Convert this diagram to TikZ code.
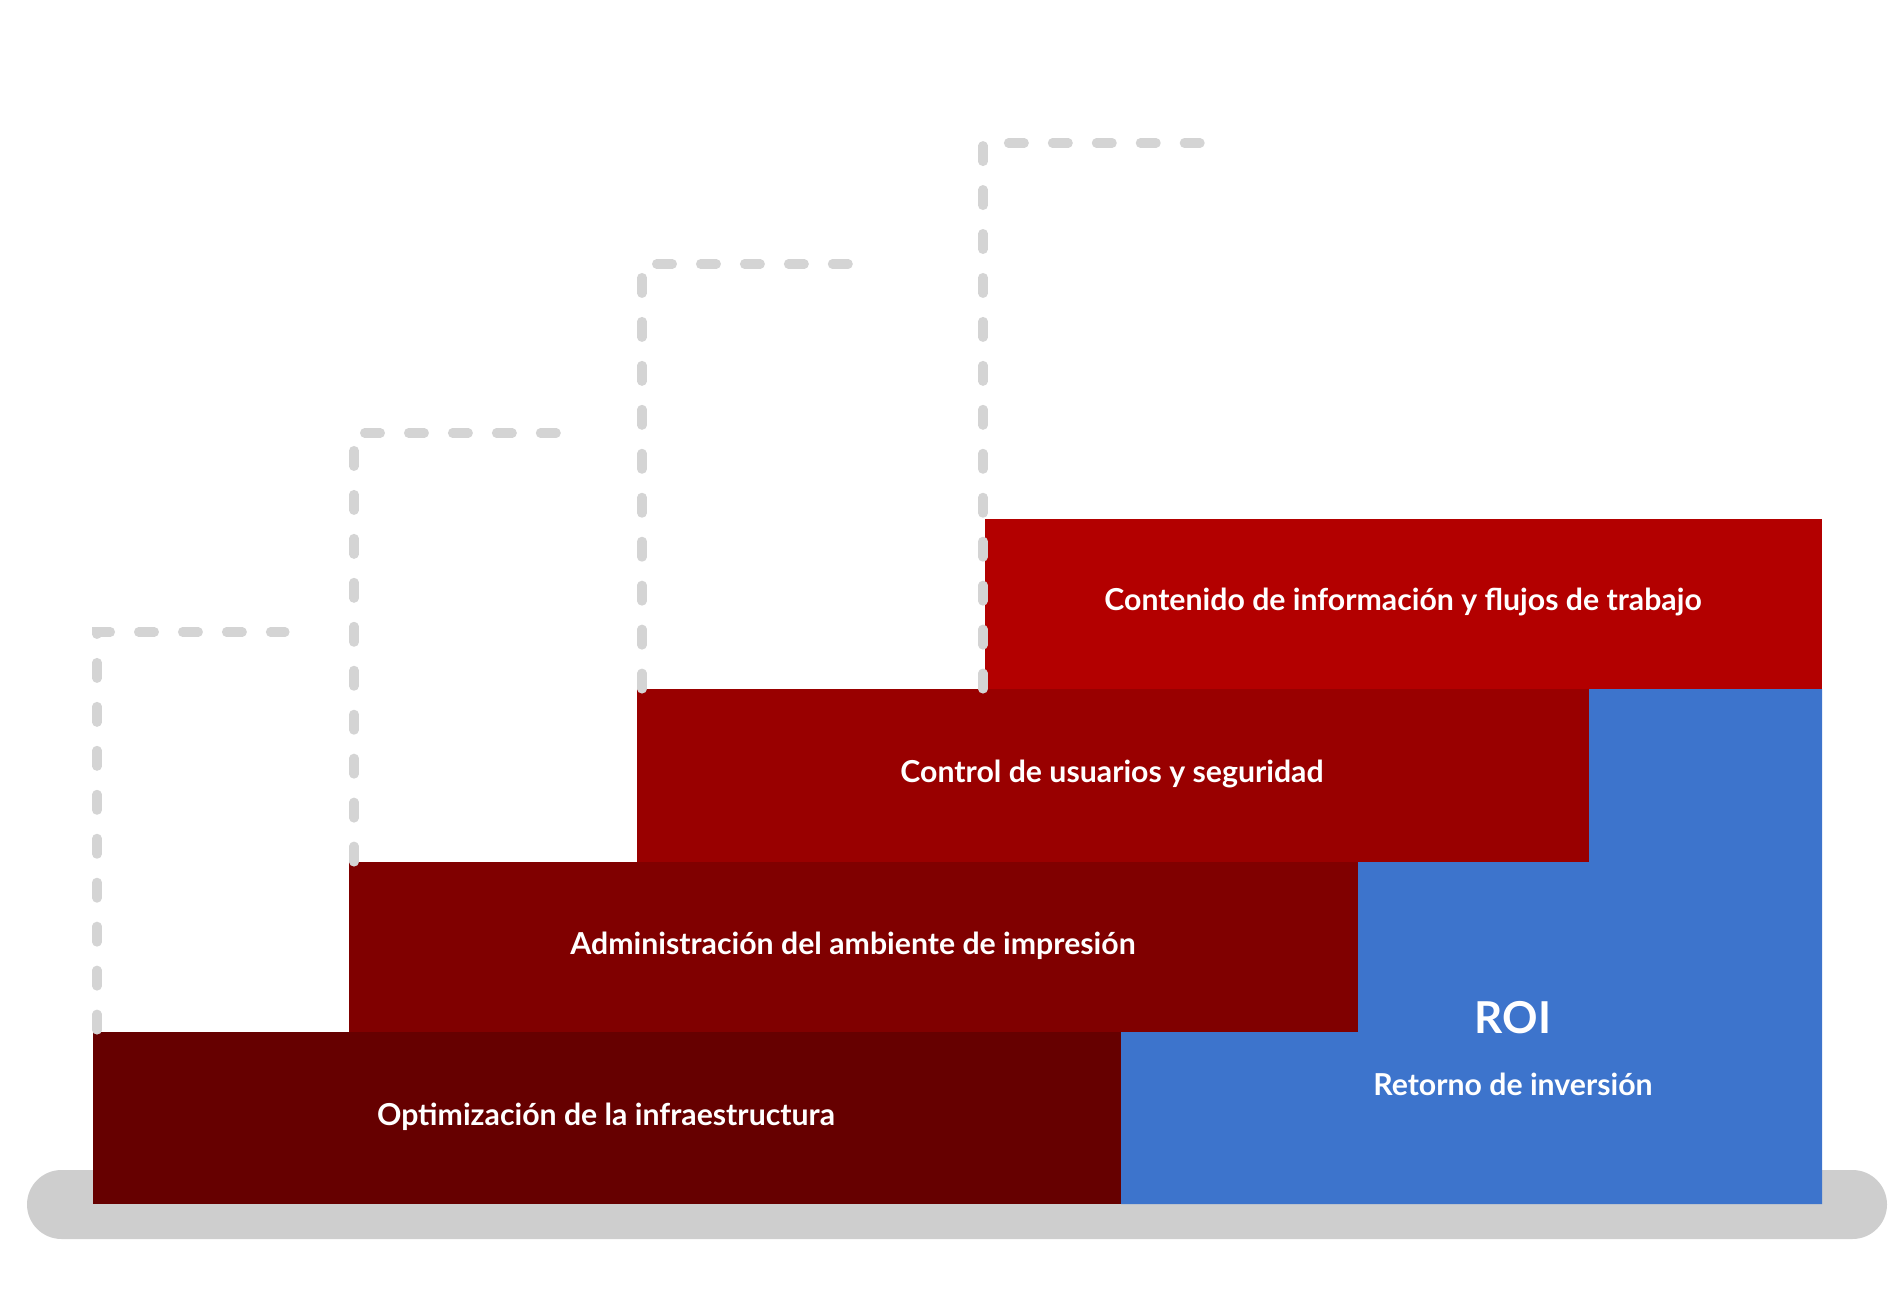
\documentclass[tikz,border=0pt]{standalone}
\usepackage{fontspec}
\setmainfont{Lato}
\definecolor{infra}{HTML}{660000}
\definecolor{admin}{HTML}{800000}
\definecolor{ctrl}{HTML}{990000}
\definecolor{cont}{HTML}{B30000}
\definecolor{roiblue}{HTML}{3D74CC}
\definecolor{base}{HTML}{CECECE}
\definecolor{guide}{HTML}{D4D4D4}
\tikzset{
  bar/.style={inner sep=0pt,outer sep=0pt,anchor=north west},
  lbl/.style={text=white,font=\bfseries\fontsize{8.6}{10}\selectfont},
  guideline/.style={draw=guide,line width=2.6pt,line cap=round,dash pattern=on 4.5pt off 8pt}
}
\begin{document}
\begin{tikzpicture}[x=0.01cm,y=-0.01cm]
\useasboundingbox (0,0) rectangle (1900,1298);
% base
\fill[base,rounded corners=0.345cm] (27,1170) rectangle (1887,1239);
% ROI block
\fill[roiblue] (1121,1204) -- (1822,1204) -- (1822,689) -- (1589,689) -- (1589,862)
  -- (1358,862) -- (1358,1032) -- (1121,1032) -- cycle;
% steps
\fill[infra] (93,1032) rectangle (1121,1204);
\fill[admin] (349,862) rectangle (1358,1032);
\fill[ctrl] (637,689) rectangle (1589,862);
\fill[cont] (985,519) rectangle (1822,689);
\node[lbl] (infra) at (606,1117) {Optimización de la infraestructura};
\node[lbl] (admin) at (853,946) {Administración del ambiente de impresión};
\node[lbl] (ctrl) at (1112,774) {Control de usuarios y seguridad};
\node[lbl] (cont) at (1403,602) {Contenido de información y flujos de trabajo};
\node[text=white,font=\bfseries\fontsize{12.5}{14}\selectfont] (roi) at (1513,1018) {ROI};
\node[lbl] (ret) at (1513,1084) {Retorno de inversión};
% guides
\coordinate (g1a) at (97,1030);  \coordinate (g1b) at (97,632);  \coordinate (g1c) at (285,632);
\coordinate (g2a) at (354,862);  \coordinate (g2b) at (354,433); \coordinate (g2c) at (579,433);
\coordinate (g3a) at (642,689);  \coordinate (g3b) at (642,264); \coordinate (g3c) at (864,264);
\coordinate (g4a) at (983,689);  \coordinate (g4b) at (983,143); \coordinate (g4c) at (1217,143);
\foreach \i in {1,...,4}
  \draw[guideline] (g\i a) -- (g\i b) -- (g\i c);
\end{tikzpicture}
\end{document}
